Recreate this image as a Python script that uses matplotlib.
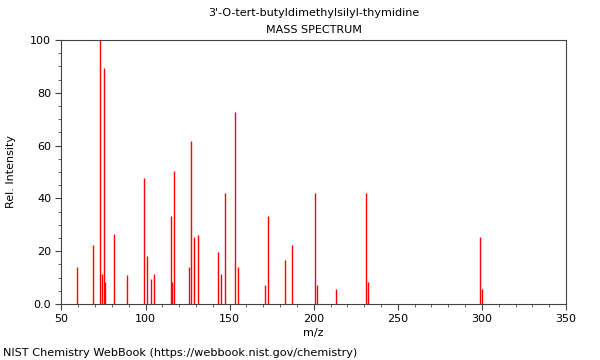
import matplotlib
matplotlib.use('Agg')
import matplotlib.pyplot as plt
from matplotlib.ticker import MultipleLocator

# peaks
mz = [59, 69, 73, 74, 75, 76, 81, 89, 99, 101, 103, 105,
      115, 116, 117, 126, 127, 129, 131, 143, 145, 147, 153, 155,
      171, 173, 183, 187, 201, 202, 213, 231, 232, 299, 300]
intensity = [13.9, 22.3, 100, 11.4, 89.3, 8.4, 26.5, 11.1, 47.6, 18.3, 9.5, 11.2,
             33.3, 8.3, 50.5, 14.1, 61.6, 25.4, 26.3, 19.6, 11.2, 41.9, 72.6, 14.1,
             7.2, 33.3, 16.7, 22.3, 41.9, 7.2, 5.7, 41.9, 8.3, 25.3, 5.7]

yticks = [0, 20, 40, 60, 80, 100]
ytick_labels = ['0.0', '20', '40', '60', '80', '100']

fig = plt.figure(figsize=(6, 3.6), dpi=100)
left, right, bottom, top = 61.5/600, 566/600, 1 - 304/360, 1 - 40/360
ax = fig.add_axes([left, bottom, right - left, top - bottom])

ax.vlines(mz, 0, intensity, colors='#ff0000', linewidth=1)

ax.set_xlim(50, 350)
ax.set_ylim(0, 100)
ax.xaxis.set_major_locator(MultipleLocator(50))
ax.xaxis.set_minor_locator(MultipleLocator(10))
ax.set_yticks(yticks)
ax.set_yticklabels(ytick_labels)
ax.yaxis.set_minor_locator(MultipleLocator(5))
ax.tick_params(which='both', direction='out', labelsize=8, color='#444444')
ax.tick_params(which='major', length=4)
ax.tick_params(which='minor', length=2)
for s in ax.spines.values():
    s.set_color('#444444')

ax.set_xlabel('m/z', fontsize=8)
ax.set_ylabel('Rel. Intensity', fontsize=8)
ax.yaxis.set_label_coords(-0.09, 0.5)
ax.xaxis.set_label_coords(0.5, -0.09)

cx = (left + right) / 2
fig.text(cx, 1 - 13/360, "3'-O-tert-butyldimethylsilyl-thymidine", ha='center', va='center', fontsize=8)
fig.text(cx, 1 - 30/360, 'MASS SPECTRUM', ha='center', va='center', fontsize=8)
fig.text(3/600, 1 - 353/360, 'NIST Chemistry WebBook (https://webbook.nist.gov/chemistry)',
         ha='left', va='center', fontsize=8.15)

plt.savefig('out.png', dpi=100)
